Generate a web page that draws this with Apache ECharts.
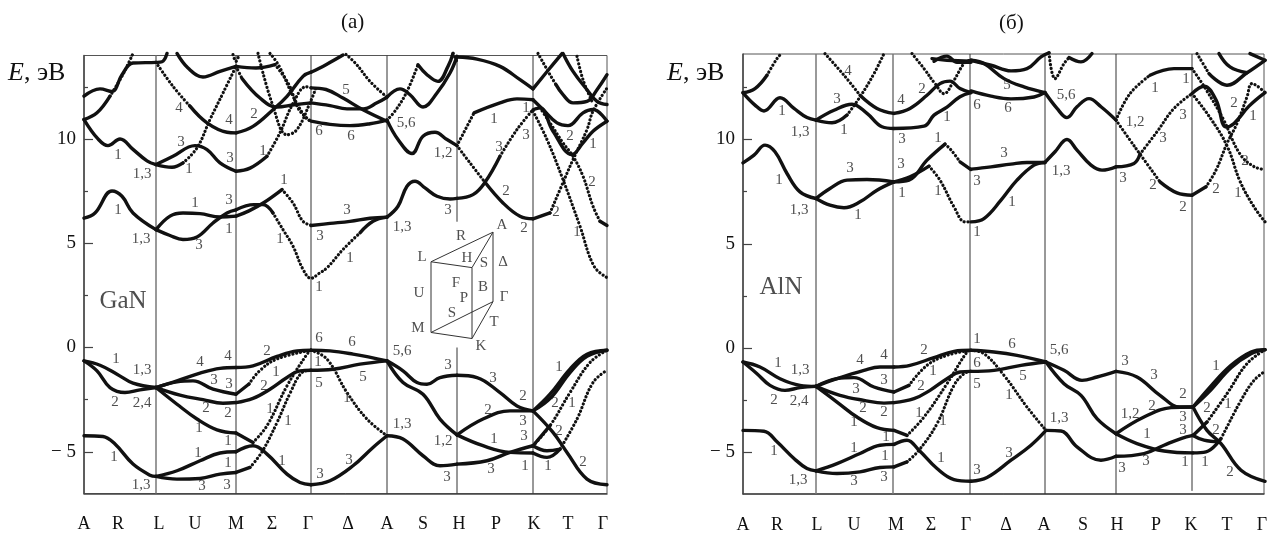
<!DOCTYPE html>
<html><head><meta charset="utf-8">
<style>html,body{margin:0;padding:0;background:#fff}#c{width:1279px;height:538px}</style>
<script src="https://cdn.jsdelivr.net/npm/echarts@6/dist/echarts.min.js"></script>
</head><body><div id="c"></div>
<script>
const pathNames = ['A','R','L','U','M','Σ','Γ','Δ','A','S','H','P','K','T','Γ'];
const gaNNameK = [0,34,75,111,152,188,224,264,303,339,375,412,450,484,519];
const alNNameK = [0,34,74,111,153,188,223,263,301,340,374,413,448,484,519];
const majorE = [-5,0,5,10];
const minorE = [-2.5,2.5,7.5,12.5];

const gaNColumnsGrey = [[72,-7,14]];
const gaNColumnsDark = [[152,-7,14],[227,-7,14],[303,-7,14],[373,-7,0],[373,6.03,14],[449,-7,14]];
const alNColumnsGrey = [[73,-7,14.1],[150,-7,14.1]];
const alNColumnsDark = [[227,-7,14.1],[302,-7,14.1],[373,-7,14.1],[449,-6.85,14.1]];

const gaNSolid = [
 // A-L
 [[0,6.2],[11,6.45],[28,7.5],[38,7.25],[49,6.45],[72,5.65]],
 [[0,10.93],[14,10],[24,9.68],[36,10],[49,9.5],[63,8.95],[72,8.77]],
 [[0,12.05],[16,12.4],[28,12.28],[38,13.08],[49,13.64],[72,13.67],[78,13.7],[83,14.1]],
 [[0,10.93],[13,11.25],[26,12.05]],
 // L-M
 [[72,5.65],[86,6.3],[99,6.45],[116,6.42],[136,6.26],[152,6.3]],
 [[72,5.65],[86,5.37],[99,5.18],[113,5.3],[129,5.97],[143,6.45],[152,6.6]],
 [[72,8.77],[89,9.17],[111,9.68],[123,9.49],[136,8.85],[152,8.45]],
 [[72,8.77],[88,8.64],[99,8.85]],
 [[106,11.57],[123,10.77],[143,10.32],[152,10.29]],
 [[93,14.1],[104,13.4],[119,12.97],[136,13.24],[152,13.48]],
 // M-Gamma
 [[152,13.48],[172,13.4],[191,13.56]],
 [[158,12.9],[176,11.96],[193,11.53],[210,11.64],[227,11.73]],
 [[152,10.29],[169,10.6],[189,11.4],[203,12.04],[219,13],[227,13.2]],
 [[152,8.45],[166,8.6],[183,9.17]],
 [[152,6.6],[170,6.85],[179,6.85],[189,6.45]],
 [[152,6.3],[165,6.55],[180,6.95],[198,7.57]],
 // Gamma-A
 [[227,13.2],[242,13.56],[259,14.02]],
 [[227,12.45],[242,12.37],[259,11.96],[279,11.4],[303,10.85]],
 [[227,11.73],[246,11.6],[263,11.44],[279,11.44],[293,11.73],[303,12]],
 [[227,10.85],[246,10.7],[266,10.64],[286,10.73],[303,10.9]],
 [[227,5.85],[246,5.95],[266,6.05],[286,6.2],[303,6.25]],
 [[276,5.5],[289,6.05],[303,6.25]],
 // A-H
 [[303,6.25],[314,6.77],[323,7.73],[331,7.97],[341,7.65],[353,7.25],[366,7.12],[373,7.15]],
 [[303,10.9],[314,9.97],[328,9.3],[339,10.13],[351,10.32],[363,9.97],[373,9.68]],
 [[303,12],[316,12.4],[326,12.12],[339,11.53],[353,12.2],[366,13.16],[373,13.96]],
 [[334,13.56],[343,13.08],[354,12.76],[364,13.48],[369,14.1]],
 // H-K
 [[373,13.93],[393,13.83],[416,13.48],[436,12.84],[449,12.4]],
 [[390,11.25],[416,11.73],[433,11.92],[449,11.88]],
 [[401,7.92],[419,6.93],[436,6.29],[449,6.17]],
 [[373,7.15],[389,7.33],[401,7.92],[416,9.17]],
 // K-Gamma
 [[449,6.17],[466,6.45]],
 [[449,12.4],[466,13.4],[478,14.09]],
 [[479,14.1],[489,13.24],[503,12.36],[513,11.8],[523,11.65]],
 [[472,12.6],[479,12.12],[489,11.73],[503,11.8],[513,12.36],[523,13.08]],
 [[449,11.88],[459,11.41],[473,10.77],[484,10.64],[499,11.25],[509,11.41],[523,10.85]],
 [[449,11.4],[456,11.49],[469,10.37],[488,9.25],[499,9.81],[509,10.37],[523,10.85]],
 [[516,6.05],[523,5.85]],
 // valence, A-L
 [[0,-0.64],[16,-0.85],[33,-1.28],[49,-1.71],[72,-1.92]],
 [[0,-0.64],[13,-1.12],[26,-1.92],[41,-2.16],[56,-2.03],[72,-1.92]],
 [[0,-4.23],[19,-4.27],[31,-4.63],[49,-5.59],[66,-6.12],[72,-6.18]],
 // L-M
 [[72,-1.92],[93,-1.6],[116,-1.23],[136,-1],[152,-0.96]],
 [[72,-1.92],[93,-1.65],[109,-1.6],[129,-2],[152,-2.24]],
 [[72,-1.92],[96,-2.28],[119,-2.5],[139,-2.67],[152,-2.64]],
 [[72,-1.92],[93,-2.72],[113,-3.43],[133,-3.95],[152,-4.1]],
 [[72,-6.18],[93,-5.91],[116,-5.43],[136,-5.06],[152,-5]],
 [[72,-6.18],[93,-6.31],[116,-6.28],[136,-6.07],[152,-5.99]],
 // M-Gamma
 [[152,-0.96],[169,-0.88],[193,-0.43],[213,-0.16],[227,-0.13]],
 [[152,-2.24],[165,-1.75]],
 [[152,-2.64],[169,-2.44],[186,-2],[203,-1.44],[216,-1.12],[227,-1.09]],
 [[152,-4.1],[169,-4.55]],
 [[152,-5],[169,-4.71],[183,-5.11],[203,-6.07],[216,-6.47],[227,-6.58]],
 [[152,-5.99],[166,-5.75]],
 // Gamma-A
 [[227,-0.13],[246,-0.16],[269,-0.32],[303,-0.64]],
 [[227,-1.09],[249,-1.04],[276,-0.8],[303,-0.64]],
 [[227,-6.58],[246,-6.39],[269,-5.67],[289,-4.79],[303,-4.23]],
 // A-H
 [[303,-0.64],[319,-1.12],[333,-1.68],[343,-1.76],[356,-1.44],[373,-1.33]],
 [[303,-0.64],[319,-1.68],[339,-2.24],[356,-3.43],[373,-4.19]],
 [[303,-4.23],[319,-4.39],[339,-5.19],[356,-5.67],[373,-5.59]],
 // H-K
 [[373,-1.33],[393,-1.44],[416,-2.16],[433,-2.8],[449,-3.04]],
 [[373,-4.19],[399,-3.43],[426,-3.04],[449,-3.04]],
 [[373,-4.19],[399,-4.71],[426,-5.03],[449,-5.06]],
 [[373,-5.59],[403,-5.43],[426,-5.03],[449,-4.71]],
 // K-Gamma
 [[449,-3.04],[466,-2.24],[486,-1.04],[503,-0.32],[523,-0.13]],
 [[449,-3.04],[467,-2.4],[486,-1.2],[503,-0.42],[523,-0.13]],
 [[449,-3.04],[469,-4.07],[483,-5.03],[503,-6.31],[523,-6.58]],
 [[449,-4.71],[466,-3.75]],
 [[449,-5.06],[463,-5.27],[476,-4.87]],
 [[449,-4.71],[463,-4.95],[476,-4.87]]
];
const gaNDotted = [
 [[26,12.05],[39,13.1],[49,14.1]],
 [[99,8.85],[113,9.57],[126,10.93],[139,12.2],[152,13.48]],
 [[72,13.67],[89,12.52],[106,11.57]],
 [[149,14.04],[152,13.72],[155,14.04]],
 [[191,13.56],[205,12.6],[215,11.4],[227,10.85]],
 [[152,13.48],[158,12.9]],
 [[174,14.1],[189,11.57],[203,10.2],[213,10.45],[226,11.73],[232,12.45]],
 [[183,9.17],[196,10.3],[209,11.7],[222,12.5],[227,12.45]],
 [[186,14.1],[195,13.5],[209,12.05],[222,11],[227,10.85]],
 [[189,6.45],[199,5.65],[209,4.86],[219,3.75],[227,3.32],[235,3.55],[243,3.82],[259,4.7],[276,5.5]],
 [[198,7.57],[209,6.93],[219,6.05],[228,5.85]],
 [[262,14.05],[272,13.6],[286,12.76],[303,12]],
 [[303,10.9],[312,11.4],[323,12.28],[334,13.56]],
 [[369,14.1],[373,13.7]],
 [[373,9.68],[390,11.25]],
 [[373,9.68],[386,8.85],[401,7.92]],
 [[416,9.17],[433,10.45],[449,11.4]],
 [[466,6.45],[481,8.13],[489,9.01],[503,10.45],[509,11.33],[523,12.44]],
 [[454,14.1],[466,13.08],[472,12.6]],
 [[493,13.96],[499,12.84],[508,11.8]],
 [[456,11.49],[466,10.77],[479,9.81],[489,9.17],[499,8.21],[509,6.77],[516,6.05]],
 [[449,11.33],[463,9.97],[479,8.05],[496,5.81],[510,3.9],[523,3.35]],
 // valence
 [[165,-1.75],[176,-1.1],[193,-0.55],[227,-0.13]],
 [[169,-4.55],[183,-3.75],[203,-1.84],[223,-0.32],[227,-0.13]],
 [[166,-5.75],[178,-5],[193,-3.6],[206,-2.2],[218,-1.2],[227,-1.09]],
 [[227,-0.13],[243,-0.56],[263,-2.16],[283,-3.43],[303,-4.23]],
 [[449,-4.71],[466,-3.75],[486,-2.16],[506,-0.72],[523,-0.13]],
 [[476,-4.87],[493,-3.43],[509,-1.68],[523,-1.09]]
];
const alNSolid = [
 [[0,8.88],[11,9.25],[22,9.73],[32,9.41],[44,8.37],[57,7.49],[73,7.17]],
 [[0,12.24],[12,11.65],[21,11.37],[37,12],[51,11.49],[64,11.05],[73,10.93]],
 [[0,12.24],[12,12.44],[24,13.08]],
 [[73,7.17],[87,7.65],[104,8.05],[124,8.08],[151,7.97]],
 [[73,7.17],[87,6.85],[101,6.73],[117,7.01],[134,7.57],[151,7.97]],
 [[73,10.93],[91,11.4],[109,11.69],[124,11.25],[139,10.61],[151,10.53]],
 [[73,10.93],[89,10.8],[104,11.17]],
 [[117,12.12],[134,11.49],[151,11.25]],
 [[151,7.97],[166,8.05],[184,9.01],[202,9.78]],
 [[151,7.97],[167,8.21],[186,8.72]],
 [[151,11.25],[167,11.49],[184,12.12],[197,12.68],[207,12.8],[217,12.44],[228,12.25]],
 [[151,10.53],[181,10.64],[191,11.17],[204,11.55],[217,12.05],[228,12.25]],
 [[189,13.88],[204,13.8],[228,13.75]],
 [[191,13.75],[204,14],[214,13.7],[228,13.7]],
 [[217,8.93],[228,8.56]],
 [[228,13.8],[241,13.64],[261,12.92],[281,12.52],[302,12.25]],
 [[228,13.8],[248,13.56],[268,13.29],[284,13.4],[298,13.96],[306,14.15]],
 [[228,12.33],[248,12.08],[268,11.95],[291,12.04],[302,12.25]],
 [[228,8.58],[248,8.69],[268,8.82],[284,8.9],[302,8.9]],
 [[228,6.05],[241,6.21],[258,7.09],[274,8.05],[291,8.77],[302,8.9]],
 [[302,8.9],[312,9.41],[324,10],[334,9.49],[348,8.77],[359,8.53],[373,8.69]],
 [[302,12.25],[314,11.49],[324,11.05],[334,11.57],[346,11.96],[358,11.57],[373,10.93]],
 [[326,13.93],[338,13.72],[349,14.12]],
 [[407,13.08],[431,13.4],[449,13.4]],
 [[417,7.97],[434,7.44],[449,7.33]],
 [[373,8.69],[391,8.85],[397,9.3]],
 [[449,12.2],[461,12.55],[473,11.9],[483,10.6],[491,10.77],[506,11.6],[522,12.25]],
 [[466,13.16],[484,12.6],[504,13.2],[522,13.8]],
 [[476,14.12],[487,13.48],[504,13.2]],
 [[507,14.12],[522,13.8]],
 [[449,7.33],[463,7.73]],
 // valence
 [[0,-0.67],[17,-0.91],[37,-1.47],[57,-1.79],[73,-1.84]],
 [[0,-0.67],[14,-1.23],[27,-1.79],[42,-2.03],[57,-1.9],[73,-1.84]],
 [[0,-3.95],[21,-3.99],[34,-4.5],[51,-5.3],[64,-5.78],[73,-5.89]],
 [[73,-1.84],[94,-1.47],[121,-1.07],[137,-0.91],[151,-0.91]],
 [[73,-1.84],[94,-1.47],[111,-1.42],[131,-1.87],[151,-2.11]],
 [[73,-1.84],[97,-2.27],[121,-2.51],[141,-2.64],[151,-2.62]],
 [[73,-1.84],[94,-2.59],[114,-3.31],[134,-3.82],[151,-3.95]],
 [[73,-5.89],[94,-5.54],[117,-5.06],[137,-4.66],[151,-4.62]],
 [[73,-5.89],[94,-6.02],[117,-5.94],[137,-5.73],[151,-5.7]],
 [[151,-0.91],[167,-0.83],[191,-0.46],[211,-0.16],[228,-0.11]],
 [[151,-2.11],[166,-1.79]],
 [[151,-2.62],[171,-2.43],[187,-2.03],[204,-1.47],[217,-1.15],[228,-1.12]],
 [[151,-3.95],[164,-4.19]],
 [[151,-4.62],[164,-4.42],[176,-4.9],[194,-5.78],[211,-6.31],[228,-6.39]],
 [[151,-5.7],[164,-5.46]],
 [[228,-0.11],[251,-0.19],[274,-0.35],[303,-0.67]],
 [[228,-1.12],[251,-1.07],[278,-0.83],[303,-0.67]],
 [[228,-6.39],[244,-6.21],[268,-5.38],[288,-4.66],[303,-3.95]],
 [[303,-0.67],[321,-1.07],[339,-1.55],[354,-1.39],[373,-1.12]],
 [[303,-0.67],[321,-1.71],[338,-2.27],[354,-3.39],[373,-4.11]],
 [[303,-3.95],[318,-3.98],[334,-4.74],[358,-5.38],[373,-5.19]],
 [[373,-1.12],[394,-1.39],[417,-2.27],[437,-2.83],[449,-2.83]],
 [[373,-4.11],[401,-3.31],[428,-2.86],[449,-2.83]],
 [[373,-4.11],[394,-4.58],[421,-4.94],[450,-5.03]],
 [[373,-5.19],[401,-5.06],[421,-4.66],[438,-4.34],[450,-4.19]],
 [[450,-2.83],[467,-1.87],[488,-0.83],[508,-0.19],[522,-0.08]],
 [[450,-2.83],[468,-2],[488,-0.95],[508,-0.28],[522,-0.08]],
 [[450,-2.83],[464,-3.95],[478,-4.58],[498,-5.86],[522,-6.39]],
 [[450,-4.19],[464,-3.55]],
 [[450,-5.03],[463,-4.98],[478,-4.34]],
 [[450,-4.19],[461,-4.42],[476,-4.5]]
];
const alNDotted = [
 [[24,13.08],[34,13.88],[39,14.15]],
 [[104,11.17],[117,12.04],[131,13.16],[141,14.12]],
 [[82,14.12],[101,13.08],[117,12.12]],
 [[202,9.78],[208,9.5],[217,8.93]],
 [[186,8.72],[197,8.05],[211,6.77],[222,6.05],[228,6.05]],
 [[169,14.12],[181,13.4],[192,12.68],[201,12.2],[211,12.84],[221,13.64],[228,13.83]],
 [[306,14.15],[312,12.92],[321,13.64],[326,13.93]],
 [[373,10.93],[387,12.2],[407,13.08]],
 [[373,10.93],[387,9.97],[397,9.3],[417,7.97]],
 [[397,9.3],[414,10.37],[431,11.49],[449,12.2]],
 [[449,13.4],[463,12.4],[480,11],[497,9.3],[511,8.7],[522,8.56]],
 [[449,12.2],[467,11.05],[484,9.7],[497,8],[511,6.77],[522,6.05]],
 [[463,7.73],[473,8.53],[484,9.81],[494,10.77],[504,12.04],[509,12.68],[522,12.25]],
 [[454,14.12],[466,13.16]],
 // valence
 [[166,-1.79],[184,-0.83],[204,-0.35],[228,-0.11]],
 [[164,-4.19],[181,-3.31],[204,-1.71],[224,-0.19],[228,-0.11]],
 [[164,-5.46],[176,-4.9],[194,-3.63],[211,-1.79],[221,-1.23],[228,-1.12]],
 [[228,-0.11],[241,-0.27],[261,-1.31],[284,-2.83],[303,-3.95]],
 [[464,-3.55],[484,-2.19],[504,-0.75],[522,-0.08]],
 [[476,-4.5],[478,-4.34],[498,-2.51],[511,-1.55],[522,-1.12]]
];

const gaNTags = [
 [34,9.25,'1'],[58,8.32,'1,3'],[105,8.56,'1'],[97,9.86,'3'],[95,11.5,'4'],[145,10.9,'4'],[146,9.06,'3'],[170,11.17,'2'],[179,9.4,'1'],
 [34,6.58,'1'],[57,5.22,'1,3'],[111,6.93,'1'],[115,4.9,'3'],[145,7.09,'3'],[145,5.7,'1'],[200,8.05,'1'],[196,5.18,'1'],
 [235,10.37,'6'],[267,10.13,'6'],[262,12.36,'5'],[322,10.77,'5,6'],[359,9.3,'1,2'],[410,10.97,'1'],[415,9.62,'3'],[442,10.2,'3'],[442,11.49,'1'],
 [486,10.16,'2'],[509,9.73,'1'],[508,7.92,'2'],[422,7.52,'2'],[472,6.49,'2'],[440,5.73,'2'],[493,5.54,'1'],[364,6.58,'3'],[263,6.58,'3'],[236,5.34,'3'],
 [318,5.78,'1,3'],[266,4.3,'1'],[235,2.88,'1'],
 [32,-0.56,'1'],[58,-1.07,'1,3'],[31,-2.6,'2'],[58,-2.64,'2,4'],[30,-5.27,'1'],[57,-6.58,'1,3'],[116,-0.72,'4'],[144,-0.43,'4'],[130,-1.55,'3'],[145,-1.76,'3'],
 [122,-2.91,'2'],[144,-3.15,'2'],[115,-3.87,'1'],[144,-4.47,'1'],[114,-5.08,'1'],[144,-5.54,'1'],[118,-6.66,'3'],[143,-6.58,'3'],[183,-0.16,'2'],[192,-1.2,'1'],
 [180,-1.87,'2'],[186,-2.96,'1'],[204,-3.51,'1'],[198,-5.43,'1'],[236,-6.07,'3'],[235,0.43,'6'],[234,-0.69,'1'],[235,-1.71,'5'],[268,0.24,'6'],[279,-1.44,'5'],
 [263,-2.44,'1'],[265,-5.38,'3'],[318,-0.16,'5,6'],[318,-3.67,'1,3'],[364,-0.85,'3'],[409,-1.47,'3'],[439,-2.32,'2'],[404,-3,'2'],[439,-3.51,'3'],[440,-4.23,'3'],
 [359,-4.5,'1,2'],[410,-4.39,'1'],[407,-5.83,'3'],[363,-6.23,'3'],[441,-5.67,'1'],[464,-5.7,'1'],[475,-0.93,'1'],[471,-2.64,'2'],[488,-2.68,'1'],[475,-4.03,'2'],[499,-5.51,'2']
];
const alNTags = [
 [39,11.36,'1'],[57,10.34,'1,3'],[101,10.45,'1'],[94,11.92,'3'],[105,13.29,'4'],[158,11.88,'4'],[159,10,'3'],[179,12.4,'2'],[204,11.09,'1'],[234,11.65,'6'],
 [36,8.05,'1'],[56,6.61,'1,3'],[115,6.37,'1'],[107,8.61,'3'],[158,8.8,'3'],[159,7.41,'1'],[195,10.05,'1'],[195,7.52,'1'],[234,8,'3'],[234,5.58,'1'],
 [264,12.6,'5'],[265,11.49,'6'],[323,12.12,'5,6'],[392,10.85,'1,2'],[412,12.49,'1'],[443,12.88,'1'],[440,11.17,'3'],[420,10.08,'3'],[261,9.33,'3'],
 [318,8.5,'1,3'],[380,8.16,'3'],[410,7.81,'2'],[473,7.62,'2'],[440,6.77,'2'],[495,7.41,'1'],[269,7.01,'1'],[491,11.76,'2'],[510,11.12,'1'],[502,8.98,'2'],
 [35,-0.72,'1'],[57,-1.07,'1,3'],[31,-2.51,'2'],[56,-2.54,'2,4'],[31,-4.95,'1'],[55,-6.34,'1,3'],[117,-0.59,'4'],[141,-0.35,'4'],[113,-1.98,'3'],[141,-1.55,'3'],
 [120,-2.86,'2'],[141,-3.07,'2'],[111,-3.55,'1'],[143,-4.27,'1'],[111,-4.79,'1'],[142,-5.19,'1'],[111,-6.39,'3'],[141,-6.21,'3'],[181,-0.11,'2'],[190,-1.1,'1'],
 [178,-1.82,'2'],[176,-3.12,'1'],[200,-3.5,'1'],[198,-5.3,'1'],[234,0.45,'1'],[234,-0.72,'6'],[234,-1.71,'5'],[234,-5.86,'3'],[269,0.21,'6'],[280,-1.36,'5'],
 [266,-2.27,'1'],[266,-5.03,'3'],[316,-0.11,'5,6'],[316,-3.35,'1,3'],[382,-0.62,'3'],[411,-1.31,'3'],[440,-2.19,'2'],[409,-2.78,'2'],[387,-3.18,'1,2'],[440,-3.31,'3'],
 [440,-3.95,'3'],[404,-4.11,'1'],[403,-5.42,'3'],[379,-5.78,'3'],[442,-5.46,'1'],[462,-5.46,'1'],[473,-0.86,'1'],[464,-2.86,'2'],[485,-2.67,'1'],[473,-3.93,'2'],[487,-5.94,'2']
];
const gaNSample = [[39,2.2,'GaN']];
const alNSample = [[38,2.92,'AlN']];
const zoneEdges = [
 [[347,4.11],[409,5.53],[409,2.2],[347,0.72],[347,4.11],[388,3.83],[409,5.53]],
 [[388,3.83],[388,0.43],[409,2.2]],
 [[347,0.72],[388,0.43]]
];
const zoneTags = [
 [338,4.35,'L'],[377,5.33,'R'],[418,5.86,'A'],[383,4.31,'H'],[400,4.07,'S'],[419,4.12,'Δ'],[372,3.11,'F'],[380,2.39,'P'],[399,2.92,'B'],
 [420,2.44,'Γ'],[335,2.63,'U'],[368,1.67,'S'],[410,1.2,'T'],[334,0.91,'M'],[397,0.05,'K']
];

const FONT = '"Liberation Serif", serif';
const INK = '#111';
const grids = [
 {left:84, top:55.5, width:523, height:438, show:true, borderColor:'#555', borderWidth:1, backgroundColor:'transparent'},
 {left:743, top:54, width:521, height:440, show:true, borderColor:'#555', borderWidth:1, backgroundColor:'transparent'}
];
const ranges = [{kMax:523, eMax:14, nameK:gaNNameK},{kMax:521, eMax:14.1, nameK:alNNameK}];
const xAxes = ranges.map((r,i)=>({
 gridIndex:i, type:'value', min:0, max:r.kMax, splitLine:{show:false},
 axisLine:{show:true, onZero:false, lineStyle:{color:'#444', width:1.5}}, axisTick:{show:false},
 axisLabel:{show:true, customValues:r.nameK, margin:22, fontFamily:FONT, fontSize:18, color:INK,
   formatter:(v)=>pathNames[r.nameK.indexOf(v)]}
}));
const yAxes = [];
ranges.forEach((r,i)=>{
 yAxes.push({gridIndex:i, type:'value', min:-7, max:r.eMax, splitLine:{show:false},
  axisLine:{show:true, onZero:false, lineStyle:{color:'#444', width:1.5}},
  axisTick:{show:true, inside:true, length:9, customValues:majorE, lineStyle:{color:'#444', width:1.2}},
  axisLabel:{show:true, customValues:majorE, margin:8, fontFamily:FONT, fontSize:19, color:INK,
    formatter:(v)=>v<0?'\u2212 '+Math.abs(v):String(v)}});
 yAxes.push({gridIndex:i, type:'value', min:-7, max:r.eMax, splitLine:{show:false}, position:'left',
  axisLine:{show:false},
  axisTick:{show:true, inside:true, length:4, customValues:minorE, lineStyle:{color:'#444', width:1.2}},
  axisLabel:{show:false}});
});
const series = [];
function addLines(list, g, color, width, extra){
 list.forEach(d=>series.push(Object.assign({type:'line', xAxisIndex:g, yAxisIndex:g*2, data:d, showSymbol:false, silent:true,
   animation:false, clip:false, lineStyle:{color:color, width:width}}, extra||{})));
}
function addColumns(list, g, color, width){
 addLines(list.map(c=>[[c[0],c[1]],[c[0],c[2]]]), g, color, width, {z:1});
}
function addBands(solid, dotted, g){
 addLines(solid, g, '#111', 3.4, {smooth:0.4, z:3, lineStyle:{color:'#111', width:3.4, cap:'round', join:'round'}});
 addLines(dotted, g, '#111', 3.2, {smooth:0.4, z:3, lineStyle:{color:'#111', width:3.2, type:[0.1,3.8], cap:'round'}});
}
function addTags(list, g, size, color){
 series.push({type:'scatter', xAxisIndex:g, yAxisIndex:g*2, data:list, symbolSize:0, silent:true, animation:false, clip:false, z:5,
  label:{show:true, position:'inside', formatter:p=>p.value[2], fontFamily:FONT, fontSize:size, color:color}});
}
addColumns(gaNColumnsGrey,0,'#777',1.5); addColumns(gaNColumnsDark,0,'#333',1);
addColumns(alNColumnsGrey,1,'#777',1.5); addColumns(alNColumnsDark,1,'#333',1);
addBands(gaNSolid,gaNDotted,0);
addBands(alNSolid,alNDotted,1);
addTags(gaNTags,0,15,'#222'); addTags(alNTags,1,15,'#222');
addTags(gaNSample,0,25,'#222'); addTags(alNSample,1,25,'#222');
addLines(zoneEdges,0,'#333',1,{z:2});
addTags(zoneTags,0,15,'#222');

const axisTitle = {fontFamily:FONT, fontSize:26, fontWeight:'normal', color:INK, rich:{i:{fontFamily:FONT, fontStyle:'italic', fontWeight:'normal', fontSize:26, color:INK}, r:{fontFamily:FONT, fontWeight:'normal', fontSize:26, color:INK}}};
const headStyle = {fontFamily:FONT, fontSize:21, fontWeight:'normal', color:INK};
const chart = echarts.init(document.getElementById('c'), null, {renderer:'canvas'});
chart.setOption({
 animation:false, backgroundColor:'#fff',
 title:[
  {text:'(а)', left:336, top:7, textStyle:headStyle},
  {text:'(б)', left:994, top:8, textStyle:headStyle},
  {text:'{i|E}{r|, эВ}', left:3, top:55, textStyle:axisTitle},
  {text:'{i|E}{r|, эВ}', left:662, top:55, textStyle:axisTitle}
 ],
 grid:grids, xAxis:xAxes, yAxis:yAxes, series:series
});
</script></body></html>
